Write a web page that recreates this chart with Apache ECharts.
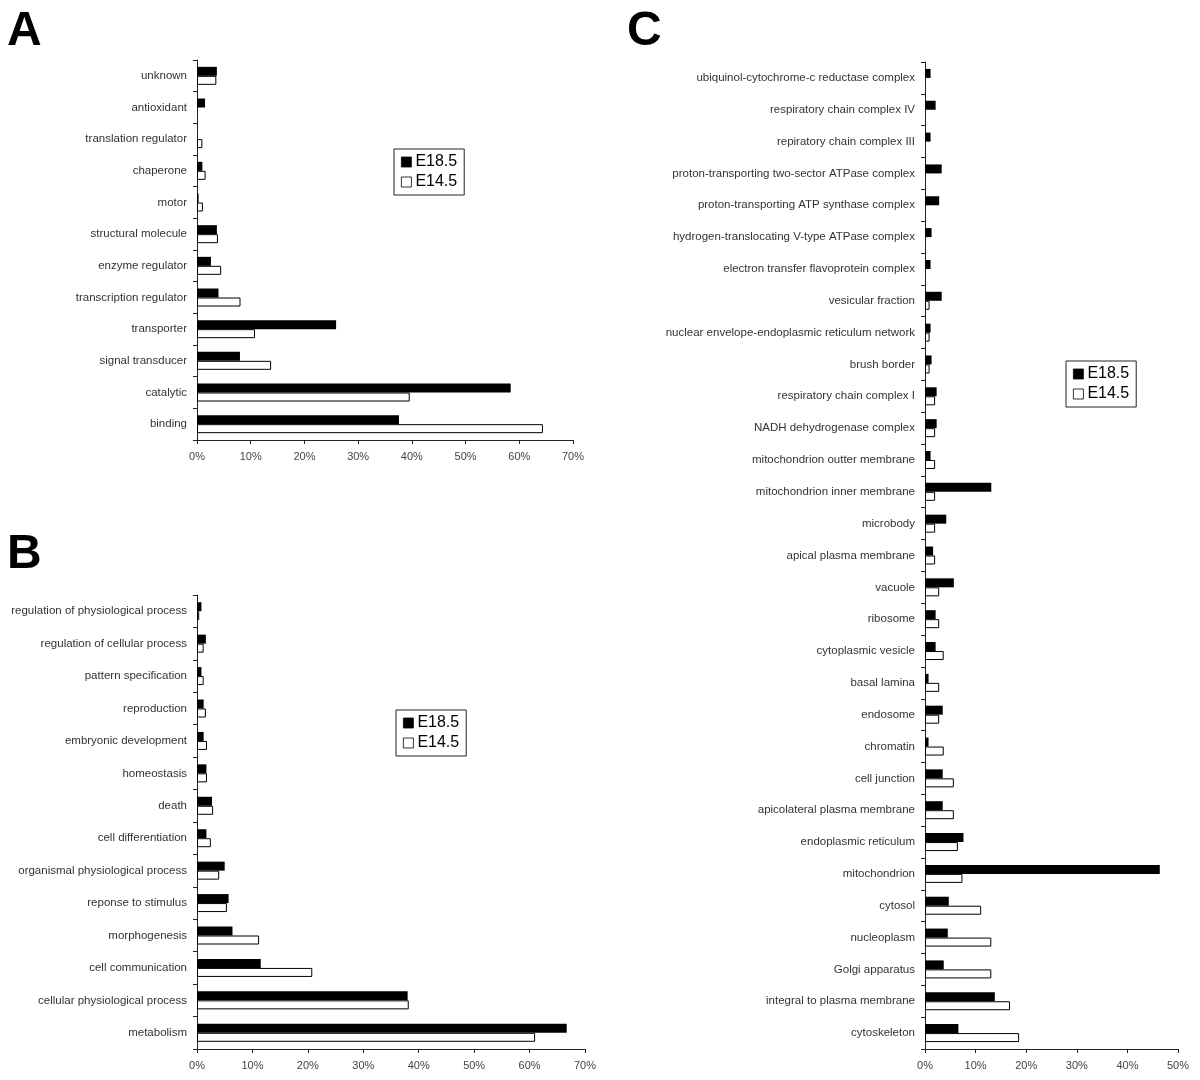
<!DOCTYPE html>
<html>
<head>
<meta charset="utf-8">
<script src="https://cdn.jsdelivr.net/npm/echarts@6/dist/echarts.min.js"></script>
<style>html,body{margin:0;padding:0;background:#fff}#c{width:1200px;height:1080px}</style>
</head>
<body>
<div id="c"></div>
<script>
// Panel A: molecular function (top to bottom)
var catsA = ['unknown','antioxidant','translation regulator','chaperone','motor','structural molecule','enzyme regulator','transcription regulator','transporter','signal transducer','catalytic','binding'];
var a185 = [3.7,1.5,0,1.0,0.3,3.7,2.6,4.0,25.9,8.0,58.4,37.6];
var a145 = [3.6,0,1.0,1.6,1.1,3.9,4.5,8.1,10.8,13.8,39.6,64.4];

// Panel B: biological process
var catsB = ['regulation of physiological process','regulation of cellular process','pattern specification','reproduction','embryonic development','homeostasis','death','cell differentiation','organismal physiological process','reponse to stimulus','morphogenesis','cell communication','cellular physiological process','metabolism'];
var b185 = [0.8,1.6,0.8,1.2,1.2,1.7,2.7,1.7,5.0,5.7,6.4,11.5,38.0,66.7];
var b145 = [0.4,1.2,1.2,1.6,1.8,1.8,2.9,2.5,4.0,5.4,11.2,20.8,38.2,61.0];

// Panel C: cellular component
var catsC = ['ubiquinol-cytochrome-c reductase complex','respiratory chain complex IV','repiratory chain complex III','proton-transporting two-sector ATPase complex','proton-transporting ATP synthase complex','hydrogen-translocating V-type ATPase complex','electron transfer flavoprotein complex','vesicular fraction','nuclear envelope-endoplasmic reticulum network','brush border','respiratory chain complex I','NADH dehydrogenase complex','mitochondrion outter membrane','mitochondrion inner membrane','microbody','apical plasma membrane','vacuole','ribosome','cytoplasmic vesicle','basal lamina','endosome','chromatin','cell junction','apicolateral plasma membrane','endoplasmic reticulum','mitochondrion','cytosol','nucleoplasm','Golgi apparatus','integral to plasma membrane','cytoskeleton'];
var c185 = [1.1,2.1,1.1,3.3,2.8,1.3,1.1,3.3,1.1,1.3,2.3,2.3,1.1,13.1,4.2,1.6,5.7,2.1,2.1,0.7,3.5,0.7,3.5,3.5,7.6,46.4,4.7,4.5,3.7,13.8,6.6];
var c145 = [0,0,0,0,0,0,0,0.9,0.9,0.9,2.0,2.0,2.0,2.0,2.0,2.0,2.8,2.8,3.7,2.8,2.8,3.7,5.7,5.7,6.5,7.4,11.1,13.1,13.1,16.8,18.6];

var seriesNames = ['E18.5','E14.5'];
var panelLetters = ['A','B','C'];

var FONT = 'Liberation Sans';
var AX = '#222';

function xAx(gi, max){
  return {
    gridIndex: gi, type: 'value', min: 0, max: max, interval: 10,
    axisLine: {show: true, lineStyle: {color: AX, width: 1}},
    axisTick: {show: true, length: 4, lineStyle: {color: AX}},
    splitLine: {show: false},
    axisLabel: {formatter: '{value}%', color: '#444', fontSize: 11, fontFamily: FONT, margin: 11}
  };
}
function yAx(gi, cats){
  return {
    gridIndex: gi, type: 'category', data: cats, inverse: true,
    axisLine: {show: true, lineStyle: {color: AX, width: 1}},
    axisTick: {show: true, length: 4, lineStyle: {color: AX}},
    axisLabel: {color: '#333', fontSize: 11.5, fontFamily: FONT, margin: 10, interval: 0}
  };
}
function withZeroNoBorder(arr){
  return arr.map(function(v){ return v === 0 ? {value: 0, itemStyle: {borderWidth: 0}} : v; });
}
function bars(gi, d1, d2){
  return [
    {name: seriesNames[0], type: 'bar', xAxisIndex: gi, yAxisIndex: gi, data: d1, barWidth: 9, barGap: '0%',
     itemStyle: {color: '#000', borderColor: '#000', borderWidth: 0}, silent: true, animation: false},
    {name: seriesNames[1], type: 'bar', xAxisIndex: gi, yAxisIndex: gi, data: withZeroNoBorder(d2), barWidth: 9, barGap: '0%',
     itemStyle: {color: '#fff', borderColor: '#000', borderWidth: 1}, silent: true, animation: false}
  ];
}
function leg(left, top){
  return {
    data: seriesNames, orient: 'vertical', left: left, top: top,
    borderColor: '#222', borderWidth: 1, padding: [4, 7, 4, 7], itemGap: 2,
    itemWidth: 10, itemHeight: 10, icon: 'rect', selectedMode: false,
    itemStyle: {borderWidth: 0.8},
    textStyle: {fontSize: 16, fontFamily: FONT, color: '#000', lineHeight: 18, padding: [0,0,0,-1]}
  };
}
function letter(ch, x, y){
  return {type: 'text', left: x, top: y, style: {text: ch, font: 'bold 48px "Liberation Sans", Arial, sans-serif', fill: '#000'}};
}

var option = {
  animation: false,
  backgroundColor: '#fff',
  grid: [
    {left: 197, top: 60, width: 376, height: 380},
    {left: 197, top: 595, width: 388, height: 454},
    {left: 925, top: 62, width: 253, height: 987}
  ],
  xAxis: [xAx(0, 70), xAx(1, 70), xAx(2, 50)],
  yAxis: [yAx(0, catsA), yAx(1, catsB), yAx(2, catsC)],
  legend: [leg(394, 149), leg(396, 710), leg(1066, 361)],
  series: [].concat(bars(0, a185, a145), bars(1, b185, b145), bars(2, c185, c145)),
  graphic: [letter(panelLetters[0], 7, 8), letter(panelLetters[1], 7, 531), letter(panelLetters[2], 627, 8)]
};

var chart = echarts.init(document.getElementById('c'), null, {renderer: 'canvas'});
chart.setOption(option);
</script>
</body>
</html>
